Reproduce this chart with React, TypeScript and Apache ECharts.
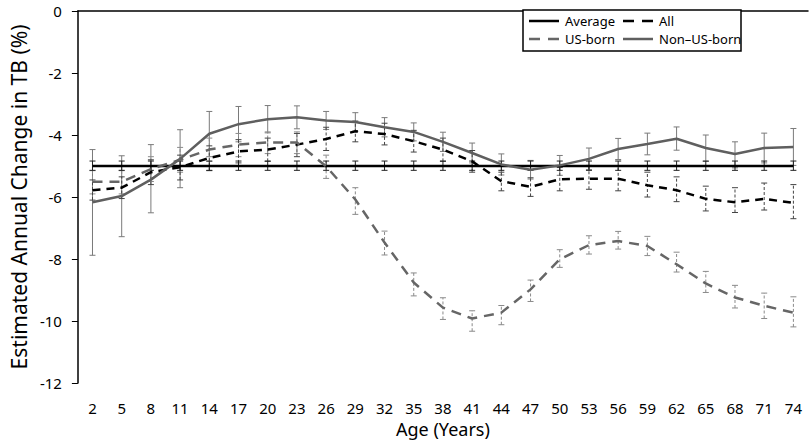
import React, { useEffect, useRef } from "react";
import * as echarts from "echarts";

const ages = ["2","5","8","11","14","17","20","23","26","29","32","35","38","41","44","47","50","53","56","59","62","65","68","71","74"];

const average = [-5,-5,-5,-5,-5,-5,-5,-5,-5,-5,-5,-5,-5,-5,-5,-5,-5,-5,-5,-5,-5,-5,-5,-5,-5];
const averageHigh = [-4.84,-4.84,-4.84,-4.84,-4.84,-4.84,-4.84,-4.84,-4.84,-4.84,-4.84,-4.84,-4.84,-4.84,-4.84,-4.84,-4.84,-4.84,-4.84,-4.84,-4.84,-4.84,-4.84,-4.84,-4.84];
const averageLow = [-5.14,-5.14,-5.14,-5.14,-5.14,-5.14,-5.14,-5.14,-5.14,-5.14,-5.14,-5.14,-5.14,-5.14,-5.14,-5.14,-5.14,-5.14,-5.14,-5.14,-5.14,-5.14,-5.14,-5.14,-5.14];

const allAges = [-5.78,-5.7,-5.2,-5.04,-4.74,-4.53,-4.47,-4.31,-4.13,-3.88,-3.97,-4.2,-4.47,-4.85,-5.49,-5.67,-5.43,-5.41,-5.41,-5.62,-5.78,-6.06,-6.17,-6.06,-6.19];
const allHigh = [-5.45,-5.35,-4.8,-4.65,-4.35,-4.15,-4.1,-3.95,-3.75,-3.55,-3.62,-3.85,-4.1,-4.5,-5.2,-5.38,-5.05,-4.98,-5.0,-5.2,-5.35,-5.65,-5.7,-5.55,-5.6];
const allLow = [-6.1,-6.05,-5.6,-5.45,-5.15,-4.9,-4.85,-4.7,-4.5,-4.22,-4.32,-4.55,-4.85,-5.2,-5.8,-5.98,-5.8,-5.75,-5.8,-6.0,-6.15,-6.45,-6.5,-6.42,-6.7];

const usBorn = [-5.51,-5.51,-5.1,-4.8,-4.47,-4.31,-4.24,-4.24,-5.01,-6.08,-7.47,-8.76,-9.57,-9.92,-9.73,-8.98,-8.01,-7.55,-7.42,-7.58,-8.17,-8.79,-9.24,-9.51,-9.73];
const usHigh = [-5.15,-5.15,-4.7,-4.4,-4.1,-3.95,-3.9,-3.9,-4.65,-5.7,-7.1,-8.45,-9.25,-9.67,-9.5,-8.68,-7.7,-7.25,-7.11,-7.27,-7.78,-8.4,-8.85,-9.1,-9.22];
const usLow = [-5.9,-5.9,-5.5,-5.2,-4.85,-4.7,-4.6,-4.6,-5.4,-6.56,-7.87,-9.19,-9.95,-10.33,-10.12,-9.37,-8.27,-7.84,-7.68,-7.89,-8.42,-9.08,-9.58,-9.92,-10.19];

const nonUsBorn = [-6.17,-5.97,-5.44,-4.77,-3.96,-3.65,-3.49,-3.43,-3.53,-3.58,-3.75,-3.9,-4.22,-4.58,-4.95,-5.12,-4.98,-4.77,-4.45,-4.29,-4.12,-4.42,-4.61,-4.42,-4.39];
const nonUsHigh = [-4.47,-4.67,-4.31,-3.83,-3.24,-3.08,-3.05,-3.06,-3.24,-3.28,-3.44,-3.61,-3.91,-4.26,-4.61,-4.82,-4.66,-4.42,-4.11,-3.94,-3.74,-4.0,-4.22,-3.94,-3.79];
const nonUsLow = [-7.88,-7.28,-6.51,-5.7,-4.7,-4.22,-3.93,-3.8,-3.82,-3.88,-4.06,-4.19,-4.53,-4.9,-5.29,-5.42,-5.3,-5.12,-4.79,-4.64,-4.49,-4.85,-5.06,-4.9,-4.98];

const legendNames = ["Average", "All", "US-born", "Non–US-born"];

const FONT = "'Noto Sans', sans-serif";

function errData(low: number[], high: number[]) {
  return low.map((l, i) => [i, l, high[i]]);
}

function errRender(color: string, dash: number[] | null, cap: number) {
  return (params: any, api: any) => {
    const x = api.value(0);
    const lo = api.coord([x, api.value(1)]);
    const hi = api.coord([x, api.value(2)]);
    const style = { stroke: color, lineWidth: 1, lineDash: dash || undefined, fill: null };
    return {
      type: "group",
      children: [
        { type: "line", shape: { x1: lo[0], y1: lo[1], x2: hi[0], y2: hi[1] }, style },
        { type: "line", shape: { x1: lo[0] - cap, y1: lo[1], x2: lo[0] + cap, y2: lo[1] }, style: { stroke: color, lineWidth: 1 } },
        { type: "line", shape: { x1: hi[0] - cap, y1: hi[1], x2: hi[0] + cap, y2: hi[1] }, style: { stroke: color, lineWidth: 1 } },
      ],
    };
  };
}

export default function App() {
  const ref = useRef<HTMLDivElement>(null);
  useEffect(() => {
    if (!ref.current) return;
    const chart = echarts.init(ref.current, undefined, { renderer: "svg" });
    const grey = "#5f5f5f";
    const legendItem = (x: number, y: number, name: string, color: string, dash: number[] | null) => [
      { type: "line", z: 101, shape: { x1: x, y1: y, x2: x + 30, y2: y }, style: { stroke: color, lineWidth: 2.5, lineDash: dash || undefined } },
      { type: "text", z: 101, x: x + 36, y: y, style: { text: name, fill: "#000", font: `13px ${FONT}`, verticalAlign: "middle", align: "left" } },
    ];
    const option: any = {
      animation: false,
      textStyle: { fontFamily: FONT },
      grid: { left: 67, right: 4, top: 11, bottom: 59 },
      xAxis: {
        type: "category",
        data: ages,
        boundaryGap: true,
        name: "Age (Years)",
        nameLocation: "middle",
        nameGap: 37,
        nameTextStyle: { fontSize: 18, color: "#000", fontFamily: FONT },
        axisLine: { lineStyle: { color: "#000", width: 1.5 } },
        axisTick: { alignWithLabel: true, length: 6, lineStyle: { color: "#000" } },
        axisLabel: { fontSize: 15, color: "#000", margin: 17, fontFamily: FONT },
      },
      yAxis: {
        type: "value",
        min: -12,
        max: 0,
        interval: 2,
        name: "Estimated Annual Change in TB (%)",
        nameLocation: "middle",
        nameGap: 45,
        nameTextStyle: { fontSize: 21, color: "#000", fontFamily: FONT },
        axisLine: { show: true, lineStyle: { color: "#000", width: 1.5 } },
        axisTick: { show: true, length: 6, lineStyle: { color: "#000" } },
        axisLabel: { fontSize: 15, color: "#000", margin: 16, fontFamily: FONT },
        splitLine: { show: false },
      },
      graphic: [
        { type: "rect", z: 100, shape: { x: 523, y: 10, width: 218, height: 41 }, style: { fill: "#fff", stroke: "#000", lineWidth: 1.5 } },
        ...legendItem(529, 21, legendNames[0], "#000", null),
        ...legendItem(623, 21, legendNames[1], "#000", [11, 8]),
        ...legendItem(529, 39, legendNames[2], "#666", [11, 8]),
        ...legendItem(623, 39, legendNames[3], grey, null),
      ],
      series: [
        { type: "custom", name: "errNon", renderItem: errRender("#7a7a7a", null, 3), data: errData(nonUsLow, nonUsHigh), encode: { x: 0, y: [1, 2] }, z: 1, silent: true },
        { type: "custom", name: "errUs", renderItem: errRender("#8a8a8a", [3, 2], 3), data: errData(usLow, usHigh), encode: { x: 0, y: [1, 2] }, z: 1, silent: true },
        { type: "custom", name: "errAll", renderItem: errRender("#444", [3, 2], 3), data: errData(allLow, allHigh), encode: { x: 0, y: [1, 2] }, z: 1, silent: true },
        { type: "custom", name: "errAvg", renderItem: errRender("#222", null, 3), data: errData(averageLow, averageHigh), encode: { x: 0, y: [1, 2] }, z: 1, silent: true },
        { type: "line", name: legendNames[0], data: average, symbol: "none", lineStyle: { color: "#000", width: 2.5 }, itemStyle: { color: "#000" }, z: 3 },
        { type: "line", name: legendNames[1], data: allAges, symbol: "none", lineStyle: { color: "#000", width: 2.5, type: [8, 6] }, itemStyle: { color: "#000" }, z: 3 },
        { type: "line", name: legendNames[2], data: usBorn, symbol: "none", lineStyle: { color: "#666", width: 2.5, type: [10, 7] }, itemStyle: { color: "#666" }, z: 3 },
        { type: "line", name: legendNames[3], data: nonUsBorn, symbol: "none", lineStyle: { color: grey, width: 2.5 }, itemStyle: { color: grey }, z: 3 },
      ],
    };
    chart.setOption(option);
    return () => chart.dispose();
  }, []);
  return <div ref={ref} style={{ width: 812, height: 443, position: "absolute", left: 0, top: 0 }} />;
}
